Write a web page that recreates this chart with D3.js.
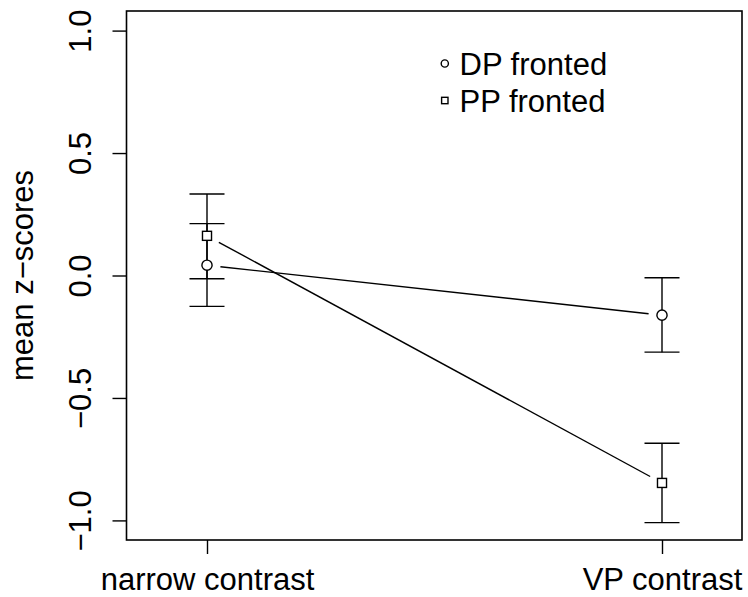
<!DOCTYPE html>
<html>
<head>
<meta charset="utf-8">
<script src="https://cdn.jsdelivr.net/npm/d3@7"></script>
<style>
  html, body { margin: 0; padding: 0; background: #fff; }
  svg { display: block; }
  text { font-family: "Liberation Sans", Arial, Helvetica, sans-serif; fill: #000; }
</style>
</head>
<body>
<script>
// ---- data ----
const categories = ["narrow contrast", "VP contrast"];
const seriesNames = ["DP fronted", "PP fronted"];
const dpMeans = [0.042, -0.162];
const dpLower = [-0.126, -0.313];
const dpUpper = [0.212, -0.009];
const ppMeans = [0.162, -0.847];
const ppLower = [-0.013, -1.009];
const ppUpper = [0.333, -0.685];
const yTicks = [-1.0, -0.5, 0.0, 0.5, 1.0];
const yTitle = "mean z\u2212scores";

// ---- layout ----
const W = 748, H = 597;
const box = { left: 126.5, right: 742, top: 11, bottom: 540 };
const FS = 31;
const LW = 1.4;

const svg = d3.select("body").append("svg").attr("width", W).attr("height", H);

const x = d3.scalePoint().domain(categories).range([207, 662]);
const y = d3.scaleLinear().domain([-1.08, 1.08]).range([box.bottom, box.top]);

// box
svg.append("rect")
  .attr("x", box.left).attr("y", box.top)
  .attr("width", box.right - box.left).attr("height", box.bottom - box.top)
  .attr("fill", "none").attr("stroke", "#000").attr("stroke-width", 1.6);

// y axis
const yAxis = d3.axisLeft(y).tickValues(yTicks).tickSize(14).tickPadding(0).tickFormat(d3.format(".1f"));
const gy = svg.append("g").attr("transform", `translate(${box.left},0)`).call(yAxis);
gy.select(".domain").remove();
gy.selectAll(".tick line").attr("stroke", "#000").attr("stroke-width", LW);
gy.selectAll(".tick text")
  .attr("font-size", FS).attr("font-family", "Liberation Sans, Arial, sans-serif")
  .attr("text-anchor", "middle").attr("dy", null).attr("x", null).attr("y", null)
  .attr("transform", `translate(${91 - box.left},0) rotate(-90)`);

// x axis
const xAxis = d3.axisBottom(x).tickSize(14).tickPadding(0);
const gx = svg.append("g").attr("transform", `translate(0,${box.bottom})`).call(xAxis);
gx.select(".domain").remove();
gx.selectAll(".tick line").attr("stroke", "#000").attr("stroke-width", LW);
gx.selectAll(".tick text")
  .attr("font-size", FS).attr("font-family", "Liberation Sans, Arial, sans-serif")
  .attr("dy", null).attr("y", 590 - box.bottom);

// y title
svg.append("text")
  .attr("transform", `translate(33,${y(0)}) rotate(-90)`)
  .attr("text-anchor", "middle").attr("font-size", FS).text(yTitle);

const series = [
  { name: seriesNames[0], means: dpMeans, lo: dpLower, hi: dpUpper, shape: "circle" },
  { name: seriesNames[1], means: ppMeans, lo: ppLower, hi: ppUpper, shape: "square" }
];

const capHalf = 17.5;
const gap = 13.5;

// error bars
series.forEach(s => {
  categories.forEach((c, i) => {
    const cx = x(c);
    const g = svg.append("g").attr("stroke", "#000").attr("stroke-width", LW);
    g.append("line").attr("x1", cx).attr("x2", cx).attr("y1", y(s.lo[i])).attr("y2", y(s.hi[i]));
    g.append("line").attr("x1", cx - capHalf).attr("x2", cx + capHalf).attr("y1", y(s.lo[i])).attr("y2", y(s.lo[i]));
    g.append("line").attr("x1", cx - capHalf).attr("x2", cx + capHalf).attr("y1", y(s.hi[i])).attr("y2", y(s.hi[i]));
  });
});

// connecting lines with gaps (type = "b")
series.forEach(s => {
  for (let i = 0; i < categories.length - 1; i++) {
    const x0 = x(categories[i]), y0 = y(s.means[i]);
    const x1 = x(categories[i + 1]), y1 = y(s.means[i + 1]);
    const len = Math.hypot(x1 - x0, y1 - y0);
    const ux = (x1 - x0) / len, uy = (y1 - y0) / len;
    svg.append("line")
      .attr("x1", x0 + ux * gap).attr("y1", y0 + uy * gap)
      .attr("x2", x1 - ux * gap).attr("y2", y1 - uy * gap)
      .attr("stroke", "#000").attr("stroke-width", LW);
  }
});

// points
const R = 5.1;
function drawMarker(sel, shape, cx, cy, r) {
  if (shape === "circle") {
    sel.append("circle").attr("cx", cx).attr("cy", cy).attr("r", r)
      .attr("fill", "#fff").attr("stroke", "#000").attr("stroke-width", LW);
  } else {
    const h = r * 0.886;
    sel.append("rect").attr("x", cx - h).attr("y", cy - h).attr("width", 2 * h).attr("height", 2 * h)
      .attr("fill", "#fff").attr("stroke", "#000").attr("stroke-width", LW);
  }
}
series.forEach(s => {
  categories.forEach((c, i) => drawMarker(svg, s.shape, x(c), y(s.means[i]), R));
});

// legend
const legend = svg.append("g");
const legRows = [75, 112];
series.forEach((s, i) => {
  drawMarker(legend, s.shape, 444.8, legRows[i] - 11.5, 3.6);
  legend.append("text").attr("x", 459.5).attr("y", legRows[i]).attr("font-size", FS).text(s.name);
});
</script>
</body>
</html>
